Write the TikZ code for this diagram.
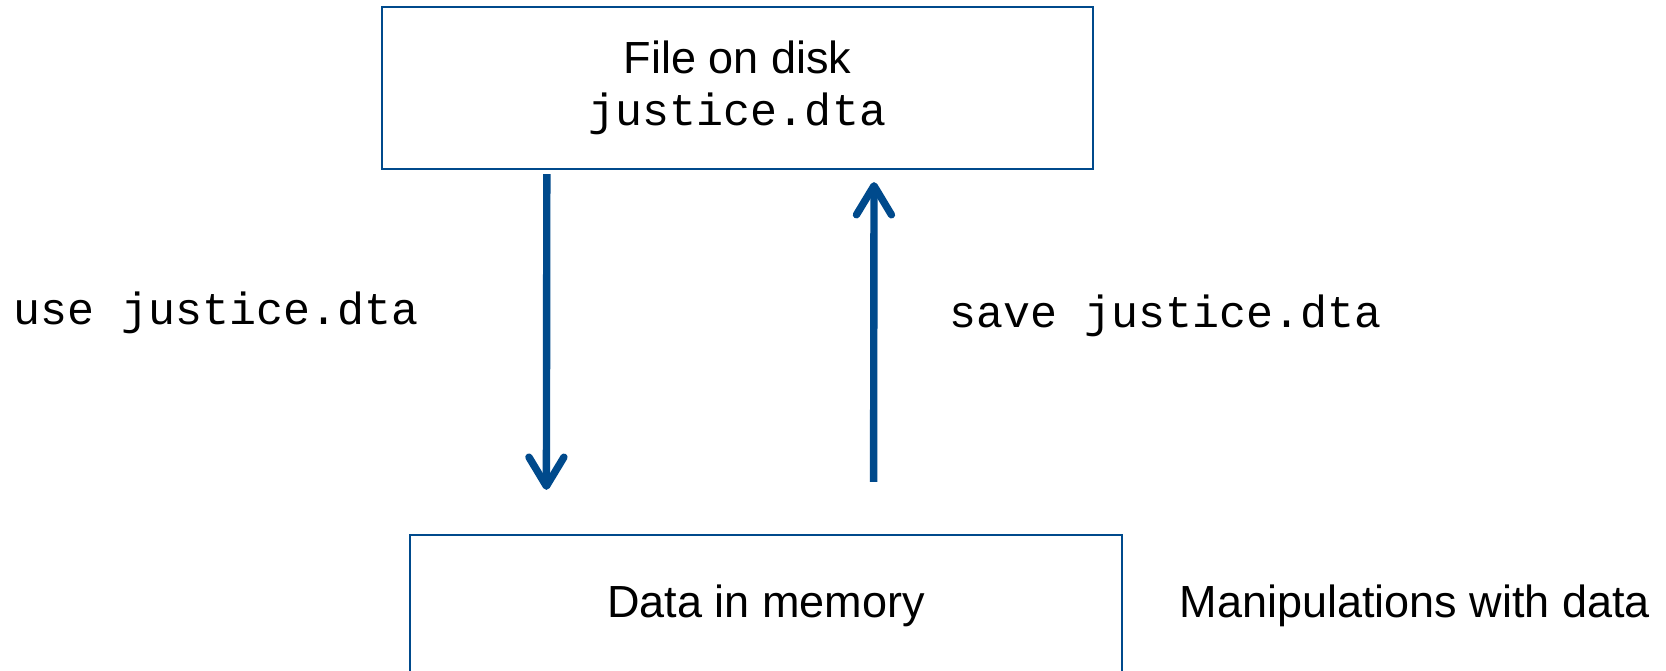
\documentclass[tikz,border=0pt]{standalone}
\usepackage{fontspec}
\setmainfont{Liberation Sans}
\setmonofont{Liberation Mono}
\usetikzlibrary{positioning,arrows.meta}
\definecolor{stblue}{RGB}{0,74,140}
\newcommand{\lbl}{\fontsize{12.8}{14.6}\selectfont}
\tikzset{
  box/.style ={draw=stblue, line width=0.6pt, minimum width=7.11cm,
               align=center, font=\lbl, inner sep=0pt},
  fl/.style  ={-{Straight Barb[length=2.9mm,width=3.5mm,round]},
               line width=2.1pt, draw=stblue, line cap=butt},
  cmd/.style ={font=\lbl\ttfamily, inner sep=0pt, anchor=west},
  txt/.style ={font=\lbl, inner sep=0pt}
}

\begin{document}
\begin{tikzpicture}[x=0.01cm,y=-0.01cm]
  \useasboundingbox (0,0) rectangle (1666,671);
  \node[box, minimum height=1.62cm] (disk) at (737.5,88) {\raisebox{-2pt}{File on disk}\\\ttfamily\raisebox{-2pt}{justice.dta}};
  \node[box, minimum height=1.42cm] (mem)  at (766,606) {Data in memory};
  \node[txt, right=0.56cm of mem] (manip) {Manipulations with data};

  % use / save
  \draw[fl, shorten <=0.04cm, shorten >=0.44cm]
    ([xshift=1.66cm]disk.south west) -- ([xshift=1.37cm]mem.north west);
  \draw[fl, shorten <=0.52cm, shorten >=0.12cm]
    ([xshift=4.64cm]mem.north west) -- ([xshift=4.93cm]disk.south west);

  \node[cmd] (use)  at (13,313)  {use justice.dta};
  \node[cmd] (save) at (949,316) {save justice.dta};
\end{tikzpicture}
\end{document}
